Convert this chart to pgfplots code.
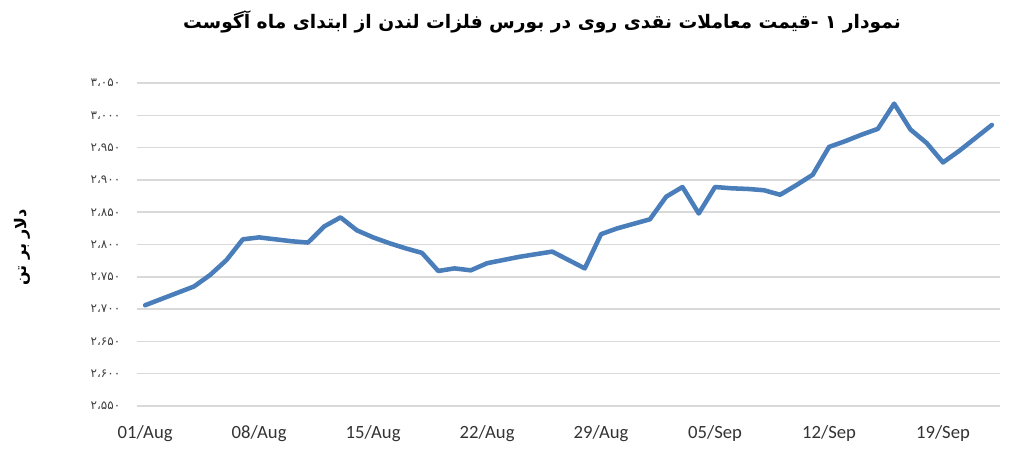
\documentclass[border=0pt]{standalone}
\usepackage{pgfplots}
\pgfplotsset{compat=1.18}
\usepackage{fontspec}
\setmainfont{Carlito}
\newfontfamily\arabicfont[Script=Arabic]{DejaVu Sans}
\TeXXeTstate=1

\definecolor{zincblue}{RGB}{74,126,187}
\definecolor{gridgray}{RGB}{217,217,217}

% cash zinc price, one point per calendar day from 01/Aug (index 0)
\pgfplotstableread{
day price
0  2706
3  2735
4  2753
5  2776
6  2808
7  2811
8  2808
9  2805
10 2803
11 2828
12 2842
13 2822
14 2811
15 2802
16 2794
17 2787
18 2759
19 2763
20 2760
21 2771
22 2776
23 2781
24 2785
25 2789
27 2763
28 2816
29 2825
30 2832
31 2839
32 2874
33 2889
34 2848
35 2889
36 2887
37 2886
38 2884
39 2877
40 2892
41 2908
42 2951
43 2960
44 2970
45 2979
46 3018
47 2978
48 2957
49 2927
50 2945
51 2965
52 2985
}\zinc

\begin{document}
\begin{tikzpicture}
\useasboundingbox (-102.75pt,-39.75pt) rectangle (666.75pt,304.5pt);
\begin{axis}[
    at={(0,0)}, anchor=south west,
    scale only axis,
    width=647.25pt, height=242.25pt,
    xmin=-0.5, xmax=52.5,
    ymin=2550, ymax=3050,
    xtick={0,7,14,21,28,35,42,49},
    xticklabels={01/Aug,08/Aug,15/Aug,22/Aug,29/Aug,05/Sep,12/Sep,19/Sep},
    ytick={2550,2600,2650,2700,2750,2800,2850,2900,2950,3000,3050},
    yticklabels={۲،۵۵۰,۲،۶۰۰,۲،۶۵۰,۲،۷۰۰,۲،۷۵۰,۲،۸۰۰,۲،۸۵۰,۲،۹۰۰,۲،۹۵۰,۳،۰۰۰,۳،۰۵۰},
    axis line style={draw=none},
    major tick length=0pt,
    ymajorgrids,
    grid style={gridgray, line width=1.1pt},
    xticklabel style={font=\fontsize{14}{16}\selectfont, text=black!80},
    yticklabel style={font=\arabicfont\fontsize{9}{11}\selectfont, text=black!75},
    every x tick label/.append style={yshift=-11pt},
    every y tick label/.append style={xshift=-9pt},
    clip=false,
]
\addplot[zincblue, line width=3.4pt, line join=round, line cap=round] table[x=day, y=price] {\zinc};
\end{axis}
\node[font=\arabicfont\bfseries\fontsize{14}{16}\selectfont] at (303.75pt,288pt)
    {\beginR نمودار ۱ -قیمت معاملات نقدی روی در بورس فلزات لندن  از ابتدای ماه آگوست\endR};
\node[rotate=90, font=\arabicfont\bfseries\fontsize{12}{14}\selectfont] at (-86pt,119pt)
    {\beginR دلار بر تن\endR};
\end{tikzpicture}
\end{document}
